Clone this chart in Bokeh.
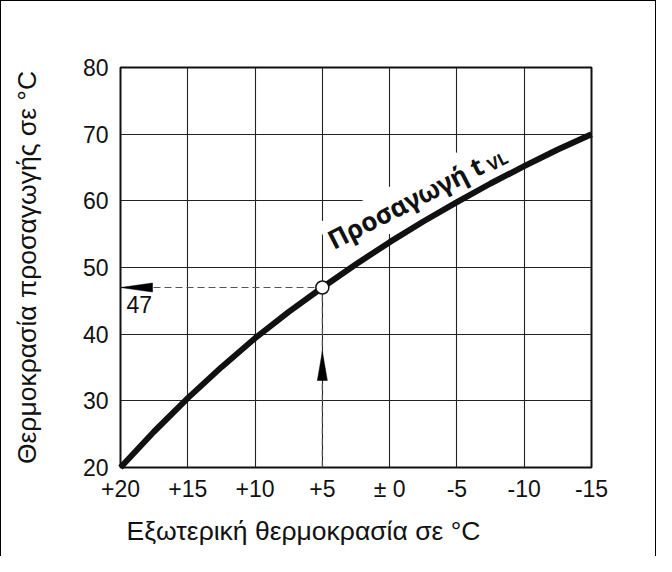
import math
from bokeh.plotting import figure
from bokeh.models import Range1d, FixedTicker, Label
from bokeh.embed import file_html
from bokeh.resources import INLINE

# ---- data ----
outdoor_temp = [20, 17.5, 15, 12.5, 10, 7.5, 5, 2.5, 0, -2.5, -5, -7.5, -10, -12.5, -15]
flow_temp = [20, 25.4, 30.4, 35.05, 39.4, 43.35, 47, 50.5, 53.8, 56.9, 59.8, 62.6, 65.2, 67.7, 70]
x_ticks = [20, 15, 10, 5, 0, -5, -10, -15]
x_tick_labels = ["+20", "+15", "+10", "+5", "± 0", "-5", "-10", "-15"]
y_ticks = [20, 30, 40, 50, 60, 70, 80]
read_outdoor = 5
read_flow = 47
curve_label = "Προσαγωγή t"
curve_label_sub = "VL"
x_title = "Εξωτερική θερμοκρασία σε °C"
y_title = "Θερμοκρασία προσαγωγής σε °C"

# ---- layout ----
W, H = 656, 556
ML, MR, MT, MB = 119, 66, 66, 90
FW, FH = W - ML - MR, H - MT - MB
X0, X1 = 20, -15
Y0, Y1 = 20, 80
px_x = FW / abs(X1 - X0)
px_y = FH / (Y1 - Y0)

SANS = "Liberation Sans"
INK = "#111111"

p = figure(width=W, height=H, x_range=Range1d(X0, X1), y_range=Range1d(Y0, Y1),
           output_backend="svg", toolbar_location=None, title_location="below",
           min_border_left=ML, min_border_right=MR, min_border_top=MT, min_border_bottom=MB)
p.styles = {"border-left": "1.5px solid black", "border-top": "1.5px solid black",
            "border-right": "1.5px solid black"}
p.background_fill_color = "white"
p.border_fill_color = "white"
p.outline_line_color = INK
p.outline_line_width = 2

# x-axis title (placed as the below-title so it can be left-aligned like the reference)
p.title.text = x_title
p.title.align = "left"
p.title.offset = 6
p.title.standoff = 19
p.title.text_font = SANS
p.title.text_font_style = "normal"
p.title.text_font_size = "26.5px"
p.title.text_color = INK

# grid
p.xgrid.ticker = FixedTicker(ticks=x_ticks)
p.ygrid.ticker = FixedTicker(ticks=y_ticks)
p.grid.grid_line_color = "#222222"
p.grid.grid_line_width = 1.1

# axes
for ax in (p.xaxis, p.yaxis):
    ax.axis_line_color = None
    ax.major_tick_line_color = None
    ax.minor_tick_line_color = None
    ax.major_tick_out = 0
    ax.major_tick_in = 0
    ax.major_label_text_font = SANS
    ax.major_label_text_font_size = "23px"
    ax.major_label_text_color = INK

p.xaxis.ticker = FixedTicker(ticks=x_ticks)
p.xaxis.major_label_overrides = {t: l for t, l in zip(x_ticks, x_tick_labels)}
p.xaxis.major_label_standoff = 8
p.yaxis.ticker = FixedTicker(ticks=y_ticks)
p.yaxis.major_label_standoff = 12

p.yaxis.axis_label = y_title
p.yaxis.axis_label_text_font = SANS
p.yaxis.axis_label_text_font_style = "normal"
p.yaxis.axis_label_text_font_size = "26.5px"
p.yaxis.axis_label_text_color = INK
p.yaxis.axis_label_standoff = 38

# reading lines (dashed)
p.line([X0, read_outdoor], [read_flow, read_flow], line_color="#555555", line_width=1.2, line_dash="7 4")
p.line([read_outdoor, read_outdoor], [Y0, read_flow], line_color="#555555", line_width=1.2, line_dash="7 4")

# arrow heads (narrow triangles, sized in pixels)
lx_base = X0 - 32 / px_x
up_tip = read_flow - 64 / px_y
up_base = read_flow - 93 / px_y
p.patches(
    xs=[[X0, lx_base, lx_base],
        [read_outdoor + 5 / px_x, read_outdoor - 5 / px_x, read_outdoor]],
    ys=[[read_flow, read_flow + 4.5 / px_y, read_flow - 4.5 / px_y],
        [up_base, up_base, up_tip]],
    fill_color="black", line_color="black", line_width=0.5)

# heating curve (drawn above the label boxes)
p.line(outdoor_temp, flow_temp, line_color=INK, line_width=6, line_join="round", level="overlay")

# reading point
p.scatter([read_outdoor], [read_flow], size=13, marker="circle",
          fill_color="white", line_color=INK, line_width=1.5, level="overlay")

# value label "47"
p.add_layout(Label(x=X0 - 6 / px_x, y=read_flow - 8 / px_y, text=str(read_flow),
                   text_font=SANS, text_font_size="23px", text_color=INK,
                   text_align="left", text_baseline="top"))

# curve label with white box
ang = 27
anchor_x = X0 - (333 - 127) / px_x
anchor_y = Y0 + (474 - 249) / px_y
p.add_layout(Label(x=anchor_x, y=anchor_y, text=curve_label, angle=ang, angle_units="deg",
                   text_font="Noto Sans", text_font_style="bold", text_font_size="26px",
                   text_color=INK, text_align="left", text_baseline="alphabetic",
                   background_fill_color="white", padding=3))
along, down = 176, 5
ca, sa = math.cos(math.radians(ang)), math.sin(math.radians(ang))
p.add_layout(Label(x=anchor_x, y=anchor_y, text=curve_label_sub, angle=ang, angle_units="deg",
                   x_offset=along * ca + down * sa, y_offset=along * sa - down * ca,
                   text_font="Noto Sans", text_font_style="bold", text_font_size="17px",
                   text_color=INK, text_align="left", text_baseline="alphabetic",
                   background_fill_color="white", padding=3))

open("out.html", "w").write(file_html(p, INLINE))
